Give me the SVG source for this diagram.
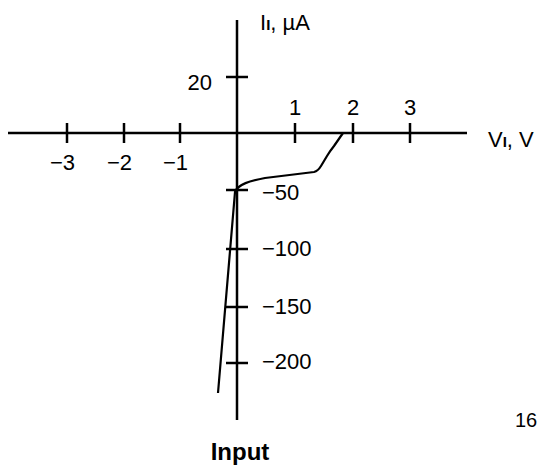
<svg xmlns="http://www.w3.org/2000/svg" width="537" height="465" viewBox="0 0 537 465">
<style>
.ax{stroke:#000;stroke-width:2.5;fill:none}
.tk{stroke:#000;stroke-width:2.5}
.cv{stroke:#000;stroke-width:2.2;fill:none;stroke-linejoin:round}
text{font-family:"Liberation Sans",Arial,sans-serif;font-size:22px;fill:#000}
.sub{font-size:15px;font-weight:bold}
.c{text-anchor:middle}
.e{text-anchor:end}
</style>
<rect width="537" height="465" fill="#fff"/>
<g id="axes">
<line class="ax" x1="8" y1="133" x2="467" y2="133"/>
<line class="ax" x1="237" y1="20" x2="237" y2="420"/>
</g>
<g id="ticks">
<line class="tk" x1="67" y1="123" x2="67" y2="143"/>
<line class="tk" x1="124" y1="123" x2="124" y2="143"/>
<line class="tk" x1="180" y1="123" x2="180" y2="143"/>
<line class="tk" x1="295" y1="123" x2="295" y2="143"/>
<line class="tk" x1="353" y1="123" x2="353" y2="143"/>
<line class="tk" x1="410" y1="123" x2="410" y2="143"/>
<line class="tk" x1="226" y1="77" x2="248" y2="77"/>
<line class="tk" x1="226" y1="190" x2="248" y2="190"/>
<line class="tk" x1="226" y1="249" x2="248" y2="249"/>
<line class="tk" x1="226" y1="307" x2="248" y2="307"/>
<line class="tk" x1="226" y1="363" x2="248" y2="363"/>
</g>
<g id="connectors">
<path class="cv" d="M218 393 L235 192 C238 184 250 181 265 178 L314 172 Q318 171 321 166 L327 156 Q330 151 334 146 L343 133 L467 133"/>
</g>
<g id="labels">
<text x="260" y="30">I<tspan class="sub">I</tspan>, µA</text>
<text x="488" y="147">V<tspan class="sub">I</tspan>, V</text>
<text class="e" x="75" y="170">−3</text>
<text class="e" x="132" y="170">−2</text>
<text class="e" x="188" y="170">−1</text>
<text class="c" x="295" y="115">1</text>
<text class="c" x="353" y="115">2</text>
<text class="c" x="410" y="115">3</text>
<text class="e" x="212" y="90">20</text>
<text x="262" y="200">−50</text>
<text x="262" y="256">−100</text>
<text x="262" y="314">−150</text>
<text x="262" y="369">−200</text>
<text x="515" y="427" style="font-size:20px">16</text>
<text class="c" x="240" y="460" style="font-weight:bold;font-size:24px">Input</text>
</g>
</svg>
